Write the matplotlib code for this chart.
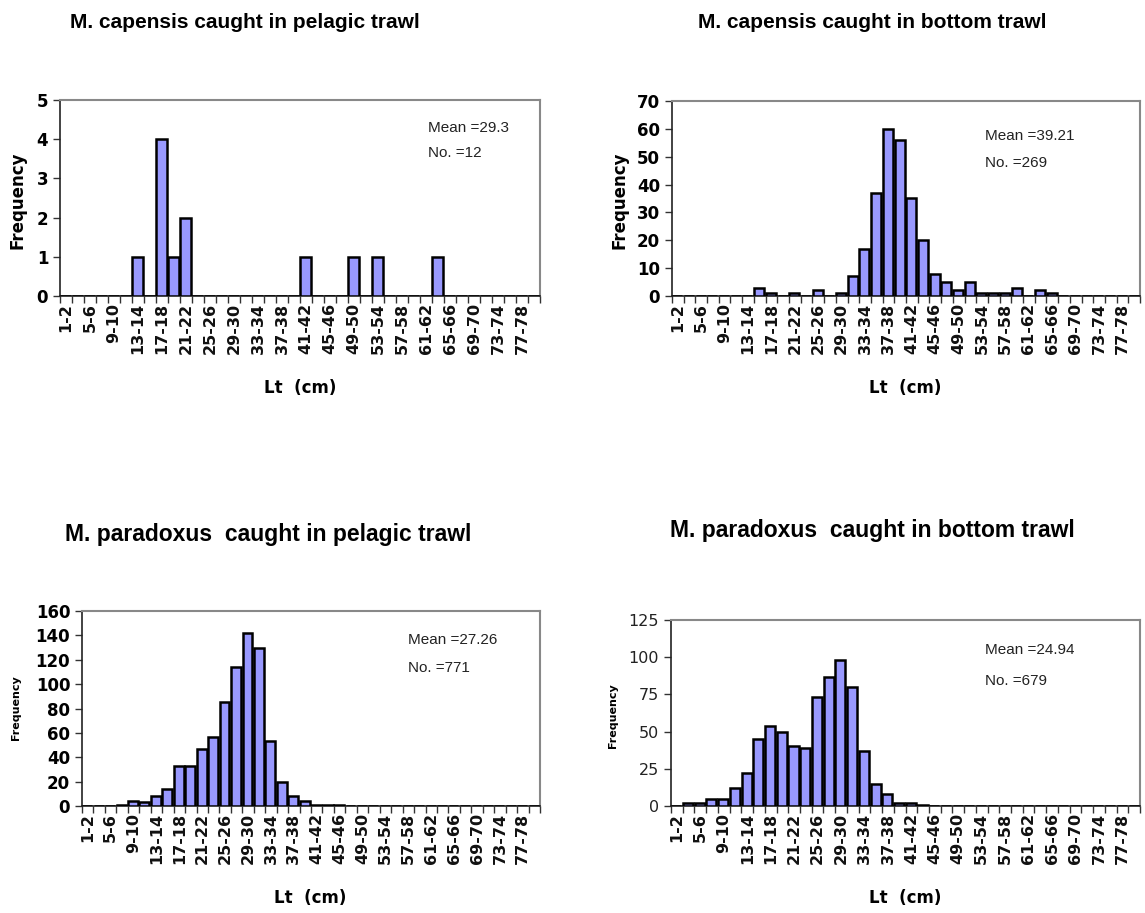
import matplotlib.pyplot as plt
import numpy as np

W, H = 1145, 913

# 2 cm length classes, 1-2 ... 79-80
classes = ["1-2", "3-4", "5-6", "7-8", "9-10", "11-12", "13-14", "15-16", "17-18", "19-20",
           "21-22", "23-24", "25-26", "27-28", "29-30", "31-32", "33-34", "35-36", "37-38", "39-40",
           "41-42", "43-44", "45-46", "47-48", "49-50", "51-52", "53-54", "55-56", "57-58", "59-60",
           "61-62", "63-64", "65-66", "67-68", "69-70", "71-72", "73-74", "75-76", "77-78", "79-80"]

# frequencies per length class (same order as classes)
cap_pelagic = [0, 0, 0, 0, 0, 0, 1, 0, 4, 1,
               2, 0, 0, 0, 0, 0, 0, 0, 0, 0,
               1, 0, 0, 0, 1, 0, 1, 0, 0, 0,
               0, 1, 0, 0, 0, 0, 0, 0, 0, 0]
cap_bottom = [0, 0, 0, 0, 0, 0, 0, 3, 1, 0,
              1, 0, 2, 0, 1, 7, 17, 37, 60, 56,
              35, 20, 8, 5, 2, 5, 1, 1, 1, 3,
              0, 2, 1, 0, 0, 0, 0, 0, 0, 0]
par_pelagic = [0, 0, 0, 1, 4, 3, 8, 14, 33, 33,
               47, 57, 85, 114, 142, 130, 53, 20, 8, 4,
               1, 1, 1, 0, 0, 0, 0, 0, 0, 0,
               0, 0, 0, 0, 0, 0, 0, 0, 0, 0]
par_bottom = [0, 2, 2, 5, 5, 12, 22, 45, 54, 50,
              40, 39, 73, 87, 98, 80, 37, 15, 8, 2,
              2, 1, 0, 0, 0, 0, 0, 0, 0, 0,
              0, 0, 0, 0, 0, 0, 0, 0, 0, 0]

titles = ["M. capensis caught in pelagic trawl", "M. capensis caught in bottom trawl",
          "M. paradoxus  caught in pelagic trawl", "M. paradoxus  caught in bottom trawl"]
means = ["29.3", "39.21", "27.26", "24.94"]
counts = ["12", "269", "771", "679"]
y_max = [5, 70, 160, 125]
y_step = [1, 10, 20, 25]


def fx(px):
    return px / W


def fy(py):
    return 1 - py / H


fig = plt.figure(figsize=(W / 100, H / 100), dpi=100)
fig.patch.set_facecolor("white")

# axes boxes in pixels: left, top, right, bottom
boxes = [(60, 100, 540, 296), (672, 101, 1140, 296),
         (82, 611, 540, 806), (671, 620, 1140, 806)]
title_pos = [(245, 22), (872, 22), (268, 535), (872, 530)]
title_size = [15, 15, 16.5, 16.5]
ylab_pos = [(18, 200), (620, 200), (16, 708), (613, 716)]
xlab_pos = [(300, 388), (905, 388), (310, 898), (905, 898)]
note_pos = [(428, 128), (985, 136), (408, 640), (985, 650)]
note_gap = [25, 27, 28, 31]

data = [cap_pelagic, cap_bottom, par_pelagic, par_bottom]
n = len(classes)
idx = np.arange(n)

for k in range(4):
    l, t, r, b = boxes[k]
    ax = fig.add_axes([fx(l), fy(b), fx(r) - fx(l), fy(t) - fy(b)])
    ax.bar(idx + 0.02, data[k], width=0.86, align="edge", color="#9999ff",
           edgecolor="black", linewidth=1.8, zorder=3)
    ax.set_xlim(0, n)
    ax.set_ylim(0, y_max[k])
    ax.set_yticks(np.arange(0, y_max[k] + 1, y_step[k]))

    # ticks on class boundaries, labels on every other class centre
    ax.set_xticks(np.arange(0, n + 1))
    ax.set_xticklabels([])
    ax.set_xticks(idx[::2] + 0.5, minor=True)
    ax.set_xticklabels(classes[::2], minor=True, rotation=90,
                       fontsize=11.5, fontweight="bold", family="DejaVu Sans")
    ax.tick_params(axis="x", which="major", direction="out", length=5,
                   width=1, color="#333333")
    ax.tick_params(axis="x", which="minor", length=0, pad=5, colors="#111111")
    if k < 3:
        ax.tick_params(axis="y", direction="out", length=5, width=1,
                       labelsize=12, color="#333333")
        for lab in ax.get_yticklabels():
            lab.set_fontweight("bold")
            lab.set_family("DejaVu Sans")
    else:
        ax.tick_params(axis="y", direction="out", length=5, width=1,
                       labelsize=11.5, color="#333333", labelcolor="#222222")
        for lab in ax.get_yticklabels():
            lab.set_family("DejaVu Sans")

    for s in ["top", "right"]:
        ax.spines[s].set_color("#888888")
        ax.spines[s].set_linewidth(1.5)
    for s in ["left", "bottom"]:
        ax.spines[s].set_color("#222222")
        ax.spines[s].set_linewidth(1.2)

    tx, ty = title_pos[k]
    fig.text(fx(tx), fy(ty), titles[k], ha="center", va="center",
             fontsize=title_size[k], fontweight="bold", family="Liberation Sans")
    yx, yy = ylab_pos[k]
    fig.text(fx(yx), fy(yy), "Frequency", ha="center", va="center",
             rotation=90, fontsize=12 if k < 2 else 8, fontweight="bold",
             family="DejaVu Sans")
    xx, xy = xlab_pos[k]
    fig.text(fx(xx), fy(xy), "Lt  (cm)", ha="center", va="center",
             fontsize=12, fontweight="bold", family="DejaVu Sans")
    nx, ny = note_pos[k]
    fig.text(fx(nx), fy(ny), "Mean =" + means[k], ha="left", va="center",
             fontsize=11, family="Liberation Sans", color="#222222")
    fig.text(fx(nx), fy(ny + note_gap[k]), "No. =" + counts[k], ha="left",
             va="center", fontsize=11, family="Liberation Sans", color="#222222")

fig.savefig("out.png", dpi=100, facecolor="white")
